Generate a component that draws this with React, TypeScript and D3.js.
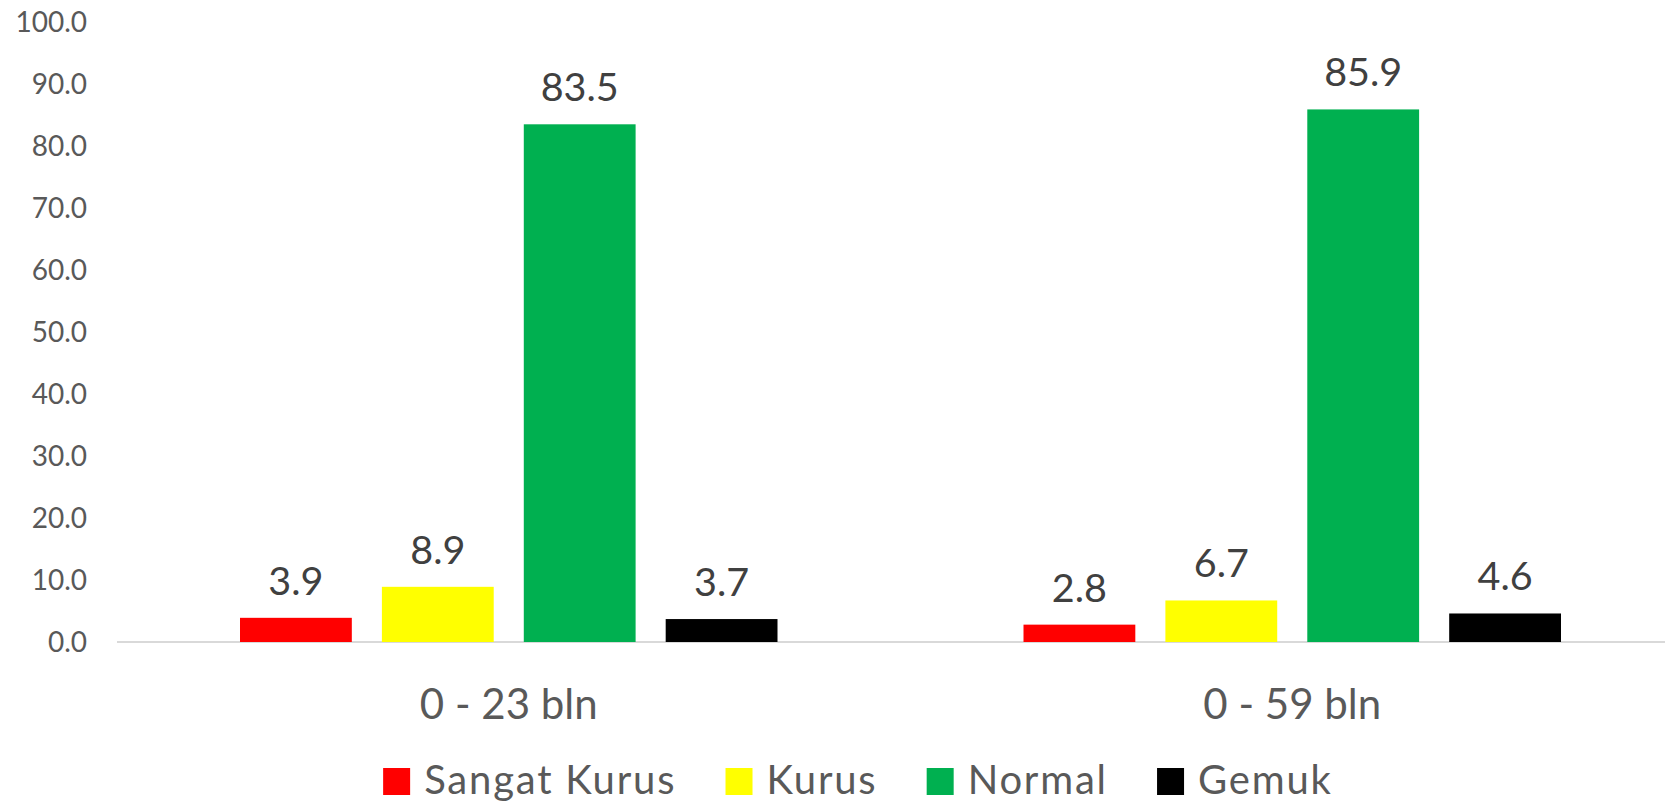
import React, { useMemo } from 'react';
import * as d3 from 'd3';

const categories = ['0 - 23 bln', '0 - 59 bln'];
const seriesNames = ['Sangat Kurus', 'Kurus', 'Normal', 'Gemuk'];
const seriesColors = ['#FF0000', '#FFFF00', '#00B050', '#000000'];
const sangatKurus = [3.9, 2.8];
const kurus = [8.9, 6.7];
const normal = [83.5, 85.9];
const gemuk = [3.7, 4.6];
const yTicks = [0, 10, 20, 30, 40, 50, 60, 70, 80, 90, 100];

const W = 1665;
const H = 801;
const FONT = 'Lato, "Open Sans", sans-serif';

const legendSize = 40;
const legendSpacing = 1.8;

function measure(text: string, size: number, spacing: number) {
  const ctx = document.createElement('canvas').getContext('2d');
  if (!ctx) return text.length * size * 0.5;
  ctx.font = `${size}px Lato`;
  return ctx.measureText(text).width + spacing * (text.length - 1);
}

export default function App() {
  const values = [sangatKurus, kurus, normal, gemuk];

  const x0 = d3.scaleBand().domain(categories).range([117, 1684]);
  const x1 = d3
    .scaleBand()
    .domain(seriesNames)
    .range([123, x0.bandwidth() - 123])
    .paddingInner(0.212);
  const y = d3.scaleLinear().domain([0, 100]).range([642, 22]);

  const legend = useMemo(() => {
    const items = seriesNames.map((name) => ({ name, w: measure(name, legendSize, legendSpacing) }));
    const total = items.reduce((s, it) => s + 27 + 14 + it.w, 0) + 51 * (items.length - 1);
    let cx = 857 - total / 2;
    return items.map((it) => {
      const pos = { ...it, x: cx };
      cx += 27 + 14 + it.w + 51;
      return pos;
    });
  }, []);

  return (
    <svg
      width={W}
      height={H}
      style={{ position: 'absolute', left: 0, top: 0, background: '#fff' }}
      fontFamily={FONT}
    >
      {/* y tick labels */}
      {yTicks.map((t) => (
        <text
          key={t}
          x={87}
          y={y(t)}
          dy={10}
          textAnchor="end"
          fontSize={28}
          fill="#595959"
        >
          {t.toFixed(1)}
        </text>
      ))}

      {/* baseline */}
      <line x1={117} x2={W} y1={y(0)} y2={y(0)} stroke="#D9D9D9" strokeWidth={2} />

      {categories.map((cat, ci) => (
        <g key={cat} transform={`translate(${x0(cat)},0)`}>
          {seriesNames.map((s, si) => {
            const v = values[si][ci];
            const bx = x1(s) as number;
            return (
              <g key={s}>
                <rect
                  x={bx}
                  y={y(v)}
                  width={x1.bandwidth()}
                  height={y(0) - y(v)}
                  fill={seriesColors[si]}
                />
                <text
                  x={bx + x1.bandwidth() / 2}
                  y={y(v) - 23}
                  textAnchor="middle"
                  fontSize={39.5}
                  fill="#404040"
                >
                  {v.toFixed(1)}
                </text>
              </g>
            );
          })}
          <text
            x={x0.bandwidth() / 2}
            y={719}
            textAnchor="middle"
            fontSize={42}
            fill="#595959"
          >
            {cat}
          </text>
        </g>
      ))}

      {/* legend */}
      {legend.map((it, i) => (
        <g key={it.name}>
          <rect x={it.x} y={768} width={27} height={27} fill={seriesColors[i]} />
          <text
            x={it.x + 41}
            y={794}
            fontSize={legendSize}
            letterSpacing={legendSpacing}
            fill="#595959"
          >
            {it.name}
          </text>
        </g>
      ))}
    </svg>
  );
}
